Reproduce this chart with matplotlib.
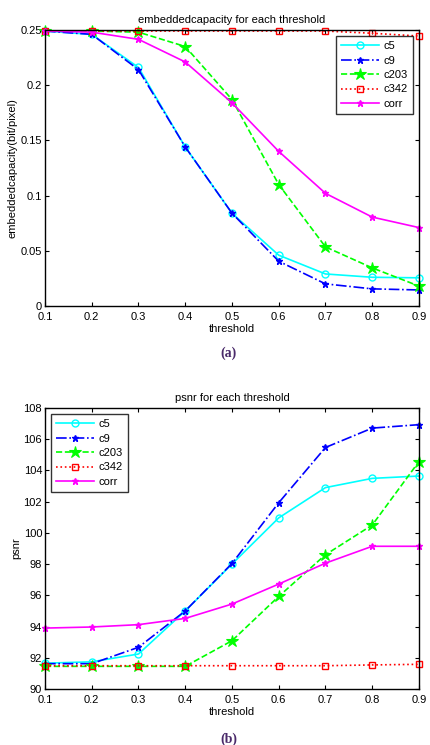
import numpy as np
import matplotlib.pyplot as plt

plt.rcParams['font.family'] = ['Liberation Sans', 'DejaVu Sans']

# ------------------------------
# dados
# ------------------------------
threshold = [0.1, 0.2, 0.3, 0.4, 0.5, 0.6, 0.7, 0.8, 0.9]

cap_c5 = [0.249, 0.246, 0.216, 0.144, 0.084, 0.046, 0.029, 0.026, 0.0255]
cap_c9 = [0.249, 0.246, 0.214, 0.144, 0.084, 0.0405, 0.020, 0.0155, 0.0145]
cap_c203 = [0.249, 0.249, 0.248, 0.235, 0.187, 0.110, 0.0535, 0.0345, 0.018]
cap_c342 = [0.249, 0.249, 0.249, 0.249, 0.249, 0.249, 0.249, 0.247, 0.2445]
cap_corr = [0.249, 0.248, 0.2415, 0.221, 0.184, 0.140, 0.102, 0.0805, 0.071]

psnr_c5 = [91.65, 91.74, 92.24, 95.0, 98.0, 100.96, 102.9, 103.49, 103.64]
psnr_c9 = [91.62, 91.62, 92.67, 95.0, 98.04, 101.93, 105.47, 106.71, 106.93]
psnr_c203 = [91.45, 91.45, 91.45, 91.45, 93.09, 95.93, 98.6, 100.5, 104.57]
psnr_c342 = [91.49, 91.49, 91.49, 91.49, 91.49, 91.49, 91.49, 91.54, 91.58]
psnr_corr = [93.9, 93.97, 94.12, 94.52, 95.44, 96.72, 98.06, 99.14, 99.14]

labels = ['c5', 'c9', 'c203', 'c342', 'corr']
xlabels = ['0.1', '0.2', '0.3', '0.4', '0.5', '0.6', '0.7', '0.8', '0.9']

# ------------------------------
# figura
# ------------------------------
fig = plt.figure(figsize=(4.31, 7.45), dpi=100)
ax1 = fig.add_axes([0.1044, 0.5893, 0.8677, 0.3705])
ax2 = fig.add_axes([0.1044, 0.0752, 0.8677, 0.3772])

fs = 8


def desenha(ax, series):
    estilos = [
        dict(color='#00ffff', ls='-', marker='o', ms=5, mfc='none', mew=1.0),
        dict(color='#0000ff', ls='-.', marker='*', ms=5, mew=1.0),
        dict(color='#00ff00', ls='--', marker='*', ms=9, mew=0.8),
        dict(color='#ff0000', ls=':', marker='s', ms=5, mfc='none', mew=1.0),
        dict(color='#ff00ff', ls='-', marker='*', ms=5, mew=1.0),
    ]
    for ys, lab, st in zip(series, labels, estilos):
        ax.plot(threshold, ys, lw=1.2, label=lab, clip_on=False, **st)
    ax.set_xlim(0.1, 0.9)
    ax.set_xticks(threshold)
    ax.set_xticklabels(xlabels)
    ax.tick_params(direction='in', top=True, right=True, labelsize=fs,
                   length=3, width=0.8)
    ax.tick_params(axis='x', pad=4)
    ax.tick_params(axis='y', pad=2)
    for s in ax.spines.values():
        s.set_linewidth(1.0)


def legenda(ax, loc):
    leg = ax.legend(loc=loc, fontsize=fs, frameon=True, fancybox=False,
                    edgecolor='black', handlelength=3.4, borderaxespad=0.5,
                    labelspacing=0.4, handletextpad=0.4, borderpad=0.5)
    leg.get_frame().set_linewidth(1.0)


desenha(ax1, [cap_c5, cap_c9, cap_c203, cap_c342, cap_corr])
ax1.set_ylim(0, 0.25)
ax1.set_yticks([0, 0.05, 0.1, 0.15, 0.2, 0.25])
ax1.set_yticklabels(['0', '0.05', '0.1', '0.15', '0.2', '0.25'])
ax1.set_title('embeddedcapacity for each threshold', fontsize=fs, pad=5)
ax1.set_xlabel('threshold', fontsize=fs, labelpad=2)
ax1.set_ylabel('embeddedcapacity(bit/pixel)', fontsize=fs, labelpad=2)
legenda(ax1, 'upper right')

desenha(ax2, [psnr_c5, psnr_c9, psnr_c203, psnr_c342, psnr_corr])
ax2.set_ylim(90, 108)
ax2.set_yticks(np.arange(90, 109, 2))
ax2.set_title('psnr for each threshold', fontsize=fs, pad=5)
ax2.set_xlabel('threshold', fontsize=fs, labelpad=2)
ax2.set_ylabel('psnr', fontsize=fs, labelpad=2)
legenda(ax2, 'upper left')

# legendas (a) e (b)
fig.text(0.53, 1 - 353 / 745, '(a)', ha='center', va='center', fontsize=10,
         fontweight='bold', family='Liberation Serif', color='#4a2a6a')
fig.text(0.53, 1 - 739 / 745, '(b)', ha='center', va='center', fontsize=10,
         fontweight='bold', family='Liberation Serif', color='#4a2a6a')

plt.savefig('out.png', dpi=100)
